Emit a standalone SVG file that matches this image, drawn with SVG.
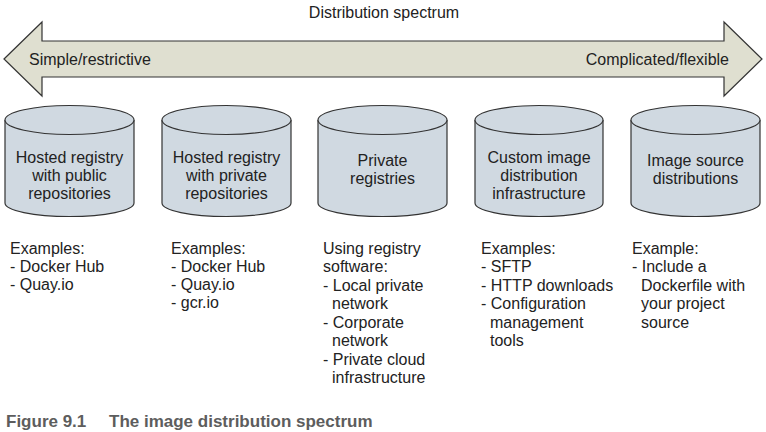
<svg xmlns="http://www.w3.org/2000/svg" width="766" height="432" viewBox="0 0 766 432">
<style>
text{font-family:"Liberation Sans",Arial,sans-serif;font-size:16px;fill:#222}
.c{text-anchor:middle}
.cyl{fill:#d0d9e1;stroke:#333;stroke-width:1.2}
.cap{font-weight:bold;font-size:17px;fill:#5d5d5d}
</style>
<rect width="766" height="432" fill="#fff"/>
<g id="spectrum">
<polygon points="4,59 42,22 42,41 724,41 724,22 762,59 724,96 724,77 42,77 42,96" fill="#dfdfd0" stroke="#333" stroke-width="1.2"/>
<text x="384" y="18" class="c">Distribution spectrum</text>
<text x="29" y="65">Simple/restrictive</text>
<text x="729" y="65" text-anchor="end">Complicated/flexible</text>
</g>
<g id="hosted-public">
<path class="cyl" d="M5,120 A64.5,14.5 0 0 1 134,120 V203 A64.5,13.5 0 0 1 5,203 Z"/>
<path class="cyl" fill="none" d="M5,120 A64.5,14.5 0 0 0 134,120"/>
<text class="c" x="69.5" y="163">Hosted registry</text>
<text class="c" x="69.5" y="181">with public</text>
<text class="c" x="69.5" y="199">repositories</text>
<text x="10" y="254">Examples:</text>
<text x="10" y="272">- Docker Hub</text>
<text x="10" y="290">- Quay.io</text>
</g>
<g id="hosted-private">
<path class="cyl" d="M162,120 A64.5,14.5 0 0 1 291,120 V203 A64.5,13.5 0 0 1 162,203 Z"/>
<path class="cyl" fill="none" d="M162,120 A64.5,14.5 0 0 0 291,120"/>
<text class="c" x="226.5" y="163">Hosted registry</text>
<text class="c" x="226.5" y="181">with private</text>
<text class="c" x="226.5" y="199">repositories</text>
<text x="171" y="254">Examples:</text>
<text x="171" y="272">- Docker Hub</text>
<text x="171" y="290">- Quay.io</text>
<text x="171" y="308">- gcr.io</text>
</g>
<g id="private-registries">
<path class="cyl" d="M318,120 A64.5,14.5 0 0 1 447,120 V203 A64.5,13.5 0 0 1 318,203 Z"/>
<path class="cyl" fill="none" d="M318,120 A64.5,14.5 0 0 0 447,120"/>
<text class="c" x="382.5" y="166">Private</text>
<text class="c" x="382.5" y="184">registries</text>
<text x="323" y="254">Using registry</text>
<text x="323" y="272">software:</text>
<text x="323" y="290.5">- Local private</text>
<text x="332" y="309">network</text>
<text x="323" y="327.5">- Corporate</text>
<text x="332" y="346">network</text>
<text x="323" y="364.5">- Private cloud</text>
<text x="332" y="383">infrastructure</text>
</g>
<g id="custom-infra">
<path class="cyl" d="M475,120 A64,14.5 0 0 1 603,120 V203 A64,13.5 0 0 1 475,203 Z"/>
<path class="cyl" fill="none" d="M475,120 A64,14.5 0 0 0 603,120"/>
<text class="c" x="539" y="163">Custom image</text>
<text class="c" x="539" y="181">distribution</text>
<text class="c" x="539" y="199">infrastructure</text>
<text x="481" y="254">Examples:</text>
<text x="481" y="272">- SFTP</text>
<text x="481" y="290.5">- HTTP downloads</text>
<text x="481" y="309">- Configuration</text>
<text x="490" y="327.5">management</text>
<text x="490" y="346">tools</text>
</g>
<g id="image-source">
<path class="cyl" d="M631,120 A64.5,14.5 0 0 1 760,120 V203 A64.5,13.5 0 0 1 631,203 Z"/>
<path class="cyl" fill="none" d="M631,120 A64.5,14.5 0 0 0 760,120"/>
<text class="c" x="695.5" y="166">Image source</text>
<text class="c" x="695.5" y="184">distributions</text>
<text x="632" y="254">Example:</text>
<text x="632" y="272">- Include a</text>
<text x="641" y="290.5">Dockerfile with</text>
<text x="641" y="309">your project</text>
<text x="641" y="327.5">source</text>
</g>
<g id="connectors"></g>
<g id="caption">
<text class="cap" x="6" y="427">Figure 9.1</text>
<text class="cap" x="109" y="427">The image distribution spectrum</text>
</g>
</svg>
